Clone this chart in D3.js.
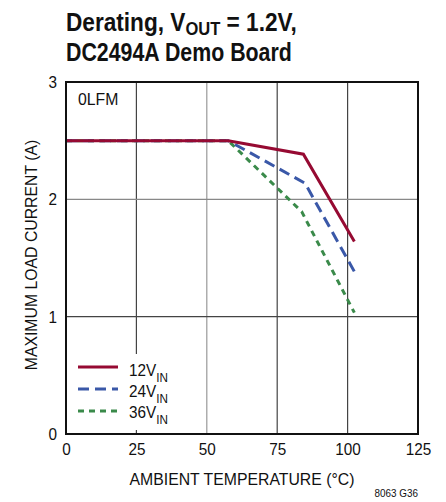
<!DOCTYPE html>
<html>
<head>
<meta charset="utf-8">
<script src="https://cdn.jsdelivr.net/npm/d3@7"></script>
<style>
  body { margin: 0; background: #fff; }
  svg text { font-family: "Liberation Sans", Arial, sans-serif; fill: #111; }
</style>
</head>
<body>
<svg id="chart" width="446" height="502"></svg>
<script>
// 値は画像から読み取り
const xTicks = [0, 25, 50, 75, 100, 125];
const yTicks = [0, 1, 2, 3];
const temp12 = [0, 57.6, 84.3, 102.4];
const cur12 = [2.5, 2.5, 2.385, 1.64];
const temp24 = [0, 57.6, 84.9, 102.4];
const cur24 = [2.5, 2.5, 2.137, 1.384];
const temp36 = [0, 57.6, 83.7, 102.4];
const cur36 = [2.5, 2.5, 1.895, 1.034];
const seriesNames = ['12V', '24V', '36V'];

const svg = d3.select('#chart');
const margin = { top: 82, right: 28, bottom: 68, left: 66 };
const width = 446, height = 502;
const NARROW = 0.9;   // 細めのフォントに寄せる横方向の縮小

const x = d3.scaleLinear().domain([0, 125]).range([margin.left, width - margin.right]);
const y = d3.scaleLinear().domain([0, 3]).range([height - margin.bottom, margin.top]);

// 横に縮めたテキストを置く
function narrowText(px, py, sx) {
    return svg.append('text')
        .attr('transform', `translate(${px},${py}) scale(${sx},1)`);
}

// タイトル（目標幅に合わせて縮める）
function fitTitle(t, px, py, target) {
    const w = t.node().getComputedTextLength();
    t.attr('transform', `translate(${px},${py}) scale(${target / w},1)`);
}
const title1 = svg.append('text')
    .attr('font-size', 26).attr('font-weight', 'bold');
title1.append('tspan').text('Derating, V');
title1.append('tspan').text('OUT').attr('font-size', 19).attr('dy', 4);
title1.append('tspan').text(' = 1.2V,').attr('dy', -4);
fitTitle(title1, 66, 31, 231);

const title2 = svg.append('text')
    .attr('font-size', 26).attr('font-weight', 'bold')
    .text('DC2494A Demo Board');
fitTitle(title2, 66, 61, 226);

// グリッド
const grid = svg.append('g');
grid.selectAll('.vx')
    .data(xTicks.slice(1, -1))
    .enter().append('line')
    .attr('x1', d => x(d)).attr('x2', d => x(d))
    .attr('y1', y(3)).attr('y2', y(0))
    .attr('stroke', (d, i) => i === 1 ? '#999' : '#444')
    .attr('stroke-width', 1.2);
grid.selectAll('.hy')
    .data(yTicks.slice(1, -1))
    .enter().append('line')
    .attr('x1', x(0)).attr('x2', x(125))
    .attr('y1', d => y(d)).attr('y2', d => y(d))
    .attr('stroke', d => d === 2 ? '#888' : '#444')
    .attr('stroke-width', 1.2);

// 軸ラベル
const xAxis = d3.axisBottom(x).tickValues(xTicks).tickSize(0).tickPadding(9)
    .tickFormat(d3.format('d'));
svg.append('g')
    .attr('transform', `translate(0,${y(0)})`)
    .call(xAxis)
    .call(g => g.select('.domain').remove())
    .call(g => g.selectAll('text').attr('font-size', 17).attr('fill', '#111')
        .attr('font-family', '"Liberation Sans", sans-serif')
        .attr('transform', `scale(${NARROW},1)`));

const yAxis = d3.axisLeft(y).tickValues(yTicks).tickSize(0).tickPadding(10)
    .tickFormat(d3.format('d'));
svg.append('g')
    .attr('transform', `translate(${x(0)},0)`)
    .call(yAxis)
    .call(g => g.select('.domain').remove())
    .call(g => g.selectAll('text').attr('font-size', 17).attr('fill', '#111')
        .attr('font-family', '"Liberation Sans", sans-serif')
        .attr('transform', `scale(${NARROW},1)`));

narrowText(x(62.5), 485, 0.93)
    .attr('text-anchor', 'middle').attr('font-size', 17)
    .text('AMBIENT TEMPERATURE (°C)');

svg.append('text')
    .attr('transform', `translate(37,${y(1.5) - 3}) rotate(-90) scale(0.93,1)`)
    .attr('text-anchor', 'middle').attr('font-size', 17)
    .text('MAXIMUM LOAD CURRENT (A)');

narrowText(418, 497, NARROW)
    .attr('text-anchor', 'end').attr('font-size', 11)
    .text('8063 G36');

narrowText(78, 105, 0.93)
    .attr('font-size', 17)
    .text('0LFM');

// 凡例の背景
svg.append('rect')
    .attr('x', x(0) + 2).attr('y', 354)
    .attr('width', 100).attr('height', 76)
    .attr('fill', '#fff');

// データ線
const series = [
    { t: temp12, c: cur12, color: '#960a32', dash: null },
    { t: temp24, c: cur24, color: '#3a58a8', dash: '11,6' },
    { t: temp36, c: cur36, color: '#3a8a4a', dash: '6,5' }
];
const line = d3.line().x(d => x(d[0])).y(d => y(d[1]));

series.slice().reverse().forEach(s => {
    svg.append('path')
        .datum(d3.zip(s.t, s.c))
        .attr('d', line)
        .attr('fill', 'none')
        .attr('stroke', s.color)
        .attr('stroke-width', 3)
        .attr('stroke-dasharray', s.dash);
});

// 凡例
const legend = svg.append('g');
series.forEach((s, i) => {
    const ly = 367 + i * 22;
    legend.append('line')
        .attr('x1', 78).attr('x2', 118)
        .attr('y1', ly).attr('y2', ly)
        .attr('stroke', s.color).attr('stroke-width', 3)
        .attr('stroke-dasharray', s.dash);
    const t = legend.append('text')
        .attr('transform', `translate(129,${376 + i * 21}) scale(${NARROW},1)`)
        .attr('font-size', 17);
    t.append('tspan').text(seriesNames[i]);
    t.append('tspan').text('IN').attr('font-size', 13).attr('dy', 6);
});

// 枠
svg.append('rect')
    .attr('x', x(0)).attr('y', y(3))
    .attr('width', x(125) - x(0)).attr('height', y(0) - y(3))
    .attr('fill', 'none').attr('stroke', '#111').attr('stroke-width', 2);
</script>
</body>
</html>
